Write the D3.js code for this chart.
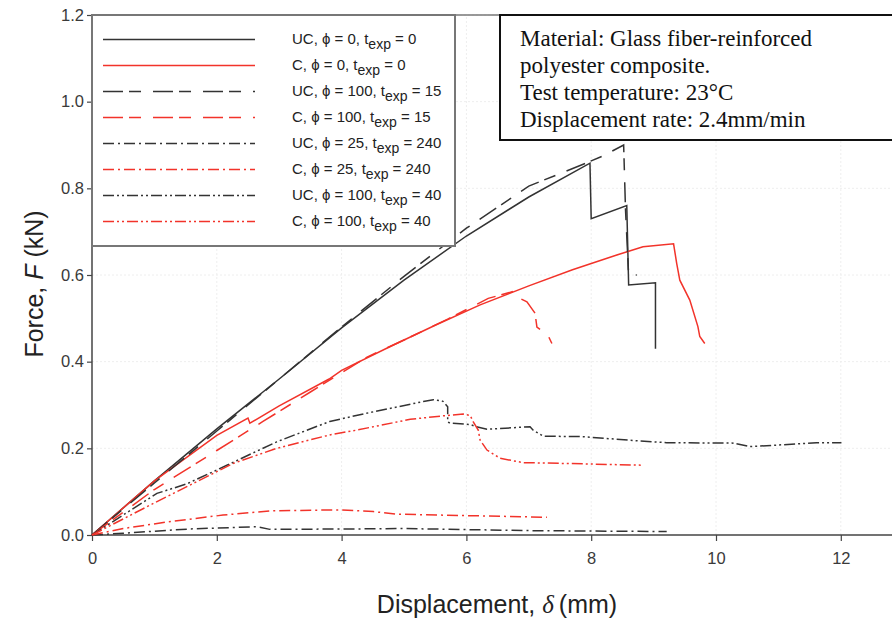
<!DOCTYPE html>
<html>
<head>
<meta charset="utf-8">
<script src="https://cdn.jsdelivr.net/npm/d3@7/dist/d3.min.js"></script>
<style>
  body { margin: 0; background: #fff; }
  svg { display: block; }
  .tick text { font-family: "Liberation Sans", Arial, sans-serif; font-size: 16.5px; fill: #3a3a3a; }
</style>
</head>
<body>
<script>
// force vs displacement, one array of [delta (mm), F (kN)] per test
var ucPhi0T0 = [[0,0],[1,0.125],[2,0.245],[3,0.36],[4,0.478],[5,0.588],[6,0.69],[7,0.78],[7.98,0.858],
    [8.0,0.73],[8.57,0.76],[8.6,0.577],[9.03,0.582],[9.03,0.43]];
var cPhi0T0 = [[0,0],[1,0.125],[2,0.23],[2.5,0.27],[2.53,0.258],[3,0.298],[3.8,0.36],[4,0.38],[4.78,0.435],
    [5.5,0.484],[6.22,0.531],[7,0.575],[7.7,0.612],[8.41,0.646],[8.83,0.665],[9.32,0.672],[9.37,0.627],
    [9.42,0.588],[9.58,0.542],[9.71,0.481],[9.74,0.458],[9.82,0.442]];
var ucPhi100T15 = [[0,0],[1,0.12],[2,0.24],[3,0.36],[4,0.48],[5,0.597],[6,0.708],[7,0.805],[7.98,0.862],
    [8.19,0.875],[8.52,0.9],[8.55,0.75],[8.6,0.6],[8.73,0.6]];
var cPhi100T15 = [[0,0],[1,0.105],[2,0.195],[2.74,0.262],[3.5,0.33],[4.4,0.41],[5,0.45],[5.7,0.498],
    [6.35,0.546],[6.75,0.562],[6.8,0.55],[6.97,0.538],[7.1,0.512],[7.13,0.48],[7.31,0.46],[7.37,0.442]];
var ucPhi25T240 = [[0,0],[0.5,0.004],[1.57,0.014],[2.64,0.019],[2.85,0.013],[4.24,0.014],[4.94,0.015],
    [7.07,0.01],[9.21,0.008]];
var cPhi25T240 = [[0,0],[0.5,0.015],[1.2,0.03],[2.1,0.046],[2.9,0.056],[3.97,0.058],[4.51,0.054],
    [4.88,0.048],[7.29,0.041]];
var ucPhi100T40 = [[0,0],[1.04,0.096],[1.52,0.118],[2.0,0.15],[2.96,0.215],[3.81,0.262],[4.4,0.281],
    [5.31,0.308],[5.47,0.312],[5.6,0.31],[5.63,0.308],[5.7,0.296],[5.7,0.261],[5.74,0.258],[6.06,0.255],
    [6.16,0.25],[6.33,0.244],[7.02,0.25],[7.07,0.242],[7.23,0.228],[7.87,0.227],[8.67,0.218],[9.21,0.213],
    [10.28,0.212],[10.54,0.204],[10.81,0.206],[11.61,0.213],[12.01,0.213]];
var cPhi100T40 = [[0,0],[0.93,0.069],[2.26,0.165],[2.96,0.2],[3.81,0.231],[4.24,0.242],[5.1,0.267],
    [5.63,0.275],[5.95,0.279],[6.06,0.276],[6.11,0.261],[6.19,0.242],[6.22,0.219],[6.33,0.196],[6.54,0.177],
    [6.91,0.167],[7.61,0.165],[8.84,0.161]];

// legend entries: specimen, phi, exposure time
var specimens = ["UC", "C", "UC", "C", "UC", "C", "UC", "C"];
var phis = [0, 0, 100, 100, 25, 25, 100, 100];
var texps = [0, 0, 15, 15, 240, 240, 40, 40];
var seriesData = [ucPhi0T0, cPhi0T0, ucPhi100T15, cPhi100T15, ucPhi25T240, cPhi25T240, ucPhi100T40, cPhi100T40];

var xTicks = [0, 2, 4, 6, 8, 10, 12];
var yTicks = [0, 0.2, 0.4, 0.6, 0.8, 1.0, 1.2];
var noteLines = ["Material: Glass fiber-reinforced", "polyester composite.",
    "Test temperature: 23\u00b0C", "Displacement rate: 2.4mm/min"];

// line styles
var dashes = { solid: null, dash: "20,6,12,12", dashdot: "11,4,2,4", dashdotdot: "11,3,2,3,2,3" };
var lineStyle = ["solid", "solid", "dash", "dash", "dashdot", "dashdot", "dashdotdot", "dashdotdot"];
var black = "#333", red = "#f2332a";

var w = 892, h = 623;
var svg = d3.select("body").append("svg")
    .attr("width", w)
    .attr("height", h);

var x = d3.scaleLinear().domain([0, 14]).range([92, 92 + 14 * 62.4]);
var y = d3.scaleLinear().domain([0, 1.2]).range([535, 15]);

// faint grid
svg.append("g").selectAll("line").data(xTicks.slice(1)).enter().append("line")
    .attr("x1", d => x(d)).attr("x2", d => x(d))
    .attr("y1", y(0)).attr("y2", y(1.2))
    .style("stroke", "#eee").style("stroke-dasharray", "2,2");
svg.append("g").selectAll("line").data(yTicks.slice(1)).enter().append("line")
    .attr("x1", x(0)).attr("x2", w)
    .attr("y1", d => y(d)).attr("y2", d => y(d))
    .style("stroke", "#eee").style("stroke-dasharray", "2,2");

// top frame
svg.append("line")
    .attr("x1", x(0)).attr("x2", w).attr("y1", y(1.2)).attr("y2", y(1.2))
    .style("stroke", "#777").style("stroke-width", 1.5);

// axes
var xAxis = svg.append("g")
    .attr("transform", "translate(0," + y(0) + ")")
    .call(d3.axisBottom(x).tickValues(xTicks).tickFormat(d3.format("d")).tickSize(6).tickPadding(11));
var yAxis = svg.append("g")
    .attr("transform", "translate(" + x(0) + ",0)")
    .call(d3.axisLeft(y).tickValues(yTicks).tickFormat(d3.format(".1f")).tickSize(5).tickPadding(3));
[xAxis, yAxis].forEach(function(a){
    a.select(".domain").style("stroke", "#444").style("stroke-width", 1.5);
    a.selectAll(".tick line").style("stroke", "#444").style("stroke-width", 1.2);
});
xAxis.select(".domain").attr("d", "M" + x(0) + ",0H" + w);
yAxis.select(".domain").attr("d", "M0," + y(0) + "V" + y(1.2));

// curves
var line = d3.line().x(d => x(d[0])).y(d => y(d[1]));
svg.append("g").selectAll("path").data(seriesData).enter().append("path")
    .attr("d", line)
    .style("fill", "none")
    .style("stroke", (d, i) => specimens[i] == "UC" ? black : red)
    .style("stroke-width", 1.5)
    .style("stroke-dasharray", (d, i) => dashes[lineStyle[i]]);

// legend
var legend = svg.append("g");
legend.append("rect")
    .attr("x", x(0)).attr("y", y(1.2)).attr("width", 363).attr("height", 231)
    .style("fill", "white").style("stroke", "#777").style("stroke-width", 2);
var rows = legend.selectAll(".row").data(specimens).enter().append("g")
    .attr("class", "row")
    .attr("transform", (d, i) => "translate(0," + (39.5 + i * 26) + ")");
rows.append("line")
    .attr("x1", 103).attr("x2", 255)
    .style("stroke", (d, i) => d == "UC" ? black : red)
    .style("stroke-width", 1.5)
    .style("stroke-dasharray", (d, i) => dashes[lineStyle[i]]);
var labels = rows.append("text")
    .attr("x", 292).attr("y", 4.5)
    .style("font-family", "'Liberation Sans', Arial, sans-serif")
    .style("font-size", "15px")
    .style("fill", "#222");
labels.append("tspan").text((d, i) => d + ", \u03d5 = " + phis[i] + ", t");
labels.append("tspan").attr("dy", 5).style("font-size", "14px").text("exp");
labels.append("tspan").attr("dy", -5).text((d, i) => " = " + texps[i]);

// note box
svg.append("rect")
    .attr("x", 500).attr("y", 15).attr("width", 420).attr("height", 125)
    .style("fill", "white").style("stroke", "#111").style("stroke-width", 2);
svg.append("g").selectAll("text").data(noteLines).enter().append("text")
    .attr("x", 520)
    .attr("y", (d, i) => 46 + i * 27)
    .style("font-family", "'Liberation Serif', 'Times New Roman', serif")
    .style("font-size", "23px")
    .style("fill", "#111")
    .text(d => d);

// axis titles
var xTitle = svg.append("text")
    .attr("x", 497).attr("y", 613)
    .attr("text-anchor", "middle")
    .style("font-family", "'Liberation Sans', Arial, sans-serif")
    .style("font-size", "25px")
    .style("fill", "#222");
xTitle.append("tspan").text("Displacement, ");
xTitle.append("tspan").style("font-family", "'Liberation Serif', serif").style("font-style", "italic").text("\u03b4");
xTitle.append("tspan").text("\u2009(mm)");

var yTitle = svg.append("text")
    .attr("transform", "translate(43,284) rotate(-90)")
    .attr("text-anchor", "middle")
    .style("font-family", "'Liberation Sans', Arial, sans-serif")
    .style("font-size", "25px")
    .style("fill", "#222");
yTitle.append("tspan").text("Force, ");
yTitle.append("tspan").style("font-style", "italic").text("F");
yTitle.append("tspan").text(" (kN)");
</script>
</body>
</html>
